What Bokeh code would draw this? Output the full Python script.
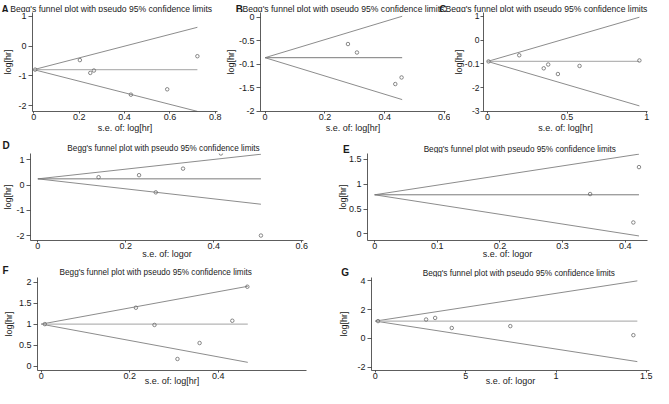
from bokeh.plotting import figure
from bokeh.models import Range1d, FixedTicker
from bokeh.layouts import column, row
from bokeh.core.properties import value
from bokeh.embed import file_html
from bokeh.resources import INLINE

# ---------------- data ----------------
# Panel A
A_se = [0.006, 0.203, 0.249, 0.265, 0.428, 0.588, 0.721]
A_lhr = [-0.79, -0.47, -0.90, -0.82, -1.63, -1.45, -0.34]
A_fun_se = [0.0, 0.721]
A_pool = [-0.79, -0.79]
A_up = [-0.79, 0.63]
A_lo = [-0.79, -2.19]
A_xt = [0, 0.2, 0.4, 0.6, 0.8]
A_xtl = ["0", "0.2", "0.4", "0.6", "0.8"]
A_yt = [-2, -1, 0, 1]
A_ytl = ["-2", "-1", "0", "1"]

# Panel B
B_se = [0.277, 0.307, 0.435, 0.456]
B_lhr = [-0.57, -0.75, -1.42, -1.28]
B_fun_se = [0.0, 0.458]
B_pool = [-0.86, -0.86]
B_up = [-0.86, 0.02]
B_lo = [-0.86, -1.75]
B_xt = [0, 0.2, 0.4, 0.6]
B_xtl = ["0", "0.2", "0.4", "0.6"]
B_yt = [0, -0.5, -1, -1.5, -2]
B_ytl = ["0", "-0.5", "-0.1", "-1.5", "-2"]

# Panel C
C_se = [0.006, 0.199, 0.353, 0.381, 0.442, 0.578, 0.954]
C_lhr = [-0.90, -0.64, -1.19, -1.03, -1.43, -1.09, -0.86]
C_fun_se = [0.0, 0.954]
C_pool = [-0.90, -0.90]
C_up = [-0.90, 0.96]
C_lo = [-0.90, -2.77]
C_xt = [0, 0.5, 1]
C_xtl = ["0", "0.5", "1"]
C_yt = [1, 0, -1, -2, -3]
C_ytl = ["1", "0", "-0.1", "-2", "-3"]

# Panel D
D_se = [0.138, 0.230, 0.268, 0.330, 0.416, 0.507]
D_lhr = [0.31, 0.39, -0.29, 0.65, 1.25, -2.00]
D_fun_se = [0.0, 0.507]
D_pool = [0.245, 0.245]
D_up = [0.245, 1.22]
D_lo = [0.245, -0.76]
D_xt = [0, 0.2, 0.4, 0.6]
D_xtl = ["0", "0.2", "0.4", "0.6"]
D_yt = [-2, -1, 0, 1]
D_ytl = ["-2", "-1", "0", "1"]

# Panel E
E_se = [0.344, 0.413, 0.422]
E_lhr = [0.80, 0.23, 1.34]
E_fun_se = [0.0, 0.422]
E_pool = [0.785, 0.785]
E_up = [0.785, 1.60]
E_lo = [0.785, -0.04]
E_xt = [0, 0.1, 0.2, 0.3, 0.4]
E_xtl = ["0", "0.1", "0.2", "0.3", "0.4"]
E_yt = [0, 0.5, 1, 1.5]
E_ytl = ["0", "0.5", "1", "1.5"]

# Panel F
F_se = [0.008, 0.214, 0.256, 0.308, 0.358, 0.432, 0.466]
F_lhr = [1.0, 1.39, 0.98, 0.17, 0.55, 1.08, 1.89]
F_fun_se = [0.0, 0.467]
F_pool = [1.0, 1.0]
F_up = [1.0, 1.90]
F_lo = [1.0, 0.09]
F_xt = [0, 0.2, 0.4, 0.6]
F_xtl = ["0", "0.2", "0.4", "0.6"]
F_yt = [0, 0.5, 1, 1.5, 2]
F_ytl = ["0", "0.5", "1", "1.5", "2"]

# Panel G
G_se = [0.015, 0.281, 0.331, 0.423, 0.747, 1.428]
G_lhr = [1.20, 1.31, 1.42, 0.72, 0.85, 0.22]
G_fun_se = [0.0, 1.45]
G_pool = [1.20, 1.20]
G_up = [1.20, 4.0]
G_lo = [1.20, -1.62]
G_xt = [0, 0.5, 1, 1.5]
G_xtl = ["0", "5", "1", "1.5"]
G_yt = [-2, 0, 2, 4]
G_ytl = ["-2", "0", "2", "4"]

TITLE = "Begg's funnel plot with pseudo 95% confidence limits"
XLAB_HR = "s.e. of: log[hr]"
XLAB_OR = "s.e. of: logor"
YLAB = "log[hr]"

# ---------------- layout helpers ----------------
SX = 653 / 669
SY = 388 / 404
FONT = "Liberation Sans"
TXT = "#1a1a1a"
CAP = 0.70  # cap height as share of font size


def X(v):
    return round(SX * v)


def Y(v):
    return round(SY * v)


def lin(pa, va, pb, vb, p):
    return va + (p - pa) * (vb - va) / (pb - pa)


def strip(y0, y1, items):
    """Full-width band without axes, carrying panel letters and titles.
    items: (text, ref_x, ref_y_centre, font_px, bold, align)"""
    W, H = 653, Y(y1) - Y(y0)
    s = figure(width=W, height=H, x_range=Range1d(0, W), y_range=Range1d(H, 0),
               x_axis_type=None, y_axis_type=None,
               output_backend="svg", toolbar_location=None,
               min_border_left=0, min_border_right=0,
               min_border_top=0, min_border_bottom=0)
    s.outline_line_color = None
    s.grid.visible = False
    for (txt, rx, ry, size, bold, align) in items:
        base = SY * ry - Y(y0) + CAP * size / 2
        s.text(x=[SX * rx], y=[base], text=[txt], text_font=value(FONT),
               text_font_size=f"{size}px",
               text_font_style="bold" if bold else "normal",
               text_align=align, text_baseline="alphabetic", text_color=TXT)
    return s


def panel(canvas, frame, xmap, ymap, data, ticks, labels, pool_color, pool_width,
          ytick=(4, 2), ylab_standoff=0, xlab_standoff=0, ytick_size="9px"):
    se, lhr, fse, pool, up, lo = data
    xt, xtl, yt, ytl = ticks
    xlab, ylab = labels
    cx0, cy0, cx1, cy1 = X(canvas[0]), Y(canvas[1]), X(canvas[2]), Y(canvas[3])
    fx0, fy0, fx1, fy1 = X(frame[0]), Y(frame[1]), X(frame[2]), Y(frame[3])
    xr = Range1d(lin(xmap[0], xmap[1], xmap[2], xmap[3], fx0 / SX),
                 lin(xmap[0], xmap[1], xmap[2], xmap[3], fx1 / SX))
    yr = Range1d(lin(ymap[0], ymap[1], ymap[2], ymap[3], fy1 / SY),
                 lin(ymap[0], ymap[1], ymap[2], ymap[3], fy0 / SY))
    p = figure(width=cx1 - cx0, height=cy1 - cy0, x_range=xr, y_range=yr,
               output_backend="svg", toolbar_location=None,
               min_border_left=fx0 - cx0, min_border_right=cx1 - fx1,
               min_border_top=fy0 - cy0, min_border_bottom=cy1 - fy1)
    p.outline_line_color = None
    p.xgrid.visible = False
    p.ygrid.visible = False
    for ax, t, tl, lab in ((p.xaxis[0], xt, xtl, xlab), (p.yaxis[0], yt, ytl, ylab)):
        ax.ticker = FixedTicker(ticks=t)
        ax.major_label_overrides = {v: s for v, s in zip(t, tl)}
        ax.minor_tick_line_color = None
        ax.axis_line_color = "#333333"
        ax.axis_line_width = 0.8
        ax.major_tick_line_color = "#333333"
        ax.major_tick_line_width = 0.8
        ax.major_tick_in = 0
        ax.major_label_text_font = FONT
        ax.major_label_text_font_size = "9px"
        ax.major_label_text_color = TXT
        ax.axis_label = lab
        ax.axis_label_text_font = FONT
        ax.axis_label_text_font_size = "9px"
        ax.axis_label_text_font_style = "normal"
        ax.axis_label_text_color = TXT
    p.yaxis.major_label_text_font_size = ytick_size
    p.xaxis.major_tick_out = 2
    p.xaxis.major_label_standoff = 0
    p.xaxis.axis_label_standoff = xlab_standoff
    p.yaxis.major_tick_out = ytick[0]
    p.yaxis.major_label_standoff = ytick[1]
    p.yaxis.axis_label_standoff = ylab_standoff

    p.line(fse, up, line_color="#6f6f6f", line_width=0.8)
    p.line(fse, lo, line_color="#6f6f6f", line_width=0.8)
    p.line(fse, pool, line_color=pool_color, line_width=pool_width)
    p.scatter(se, lhr, marker="circle", size=3.5, fill_color=None,
              line_color="#6a6a6a", line_width=0.8)
    return p


LIGHT, LW_L = "#b5b5b5", 1.3
DARK, LW_D = "#7a7a7a", 1.0

# ---- row 1 (plot content nudged down to leave room for the titles) ----
s1 = strip(0, 12, [("A", 1, 5.6, 10, True, "left"),
                   ("B", 241, 5.6, 10, True, "left"),
                   ("C", 449.5, 5.6, 10, True, "left"),
                   (TITLE, 10, 5.2, 8.6, False, "left"),
                   (TITLE, 248, 5.2, 8.6, False, "left"),
                   (TITLE, 456, 5.2, 8.6, False, "left")])

R1 = (12.5, 118)
d1 = 2.5
pA = panel((0, 12.5, 227, 141), (27, R1[0], 222, R1[1]), (28, 0, 220, 0.8),
           (14 + d1, 1, 109 + d1, -2),
           (A_se, A_lhr, A_fun_se, A_pool, A_up, A_lo), (A_xt, A_xtl, A_yt, A_ytl),
           (XLAB_HR, YLAB), LIGHT, LW_L, ylab_standoff=2, xlab_standoff=0)
pB = panel((227, 12.5, 461, 141), (260, R1[0], 456, R1[1]), (265, 0, 391.7, 0.4),
           (15 + d1, 0, 115 + d1, -2),
           (B_se, B_lhr, B_fun_se, B_pool, B_up, B_lo), (B_xt, B_xtl, B_yt, B_ytl),
           (XLAB_HR, YLAB), DARK, LW_D, ylab_standoff=0, xlab_standoff=0)
pC = panel((461, 12.5, 669, 141), (489, R1[0], 663, R1[1]), (493, 0, 662, 1),
           (14 + d1, 1, 115 + d1, -3),
           (C_se, C_lhr, C_fun_se, C_pool, C_up, C_lo), (C_xt, C_xtl, C_yt, C_ytl),
           (XLAB_HR, YLAB), LIGHT, LW_L, ytick=(3, 1), ylab_standoff=-2,
           xlab_standoff=0, ytick_size="8.5px")

# ---- row 2 ----
s2 = strip(141, 159.4, [("D", 2, 147.5, 10, True, "left"),
                        ("E", 351, 151.5, 10, True, "left"),
                        (TITLE, 167, 151.5, 8.2, False, "center"),
                        (TITLE, 532, 152.0, 8.2, False, "center")])
R2 = (159.4, 252.5)
pD = panel((0, 159.4, 335, 272), (25, R2[0], 310, R2[1]), (32.3, 0, 308.7, 0.6), (166, 1, 246.7, -2),
           (D_se, D_lhr, D_fun_se, D_pool, D_up, D_lo), (D_xt, D_xtl, D_yt, D_ytl),
           (XLAB_OR, YLAB), DARK, LW_D, ylab_standoff=0, xlab_standoff=-3)
pE = panel((335, 159.4, 669, 272), (376, R2[0], 663, R2[1]), (383.3, 0, 640, 0.4), (165.3, 1.5, 245, 0),
           (E_se, E_lhr, E_fun_se, E_pool, E_up, E_lo), (E_xt, E_xtl, E_yt, E_ytl),
           (XLAB_OR, YLAB), DARK, LW_D, ylab_standoff=-2, xlab_standoff=-3)

# ---- row 3 ----
s3 = strip(272, 288.5, [("F", 2, 277.5, 10, True, "left"),
                        ("G", 349, 280.0, 10, True, "left"),
                        (TITLE, 159, 280, 8.2, False, "center"),
                        (TITLE, 531, 280.8, 8.2, False, "center")])
R3 = (288.5, 387)
d3 = 2.0
pF = panel((0, 288.5, 335, 404), (32, R3[0], 314, R3[1]), (35.7, 0, 313.6, 0.6), (293.3, 2, 382.7, 0),
           (F_se, F_lhr, F_fun_se, F_pool, F_up, F_lo), (F_xt, F_xtl, F_yt, F_ytl),
           (XLAB_HR, YLAB), LIGHT, LW_L, ylab_standoff=2, xlab_standoff=-6)
pG = panel((335, 288.5, 669, 404), (380, R3[0], 665, R3[1]), (384, 0, 661.7, 1.5),
           (290 + d3, 4, 381.7 + d3, -2),
           (G_se, G_lhr, G_fun_se, G_pool, G_up, G_lo), (G_xt, G_xtl, G_yt, G_ytl),
           (XLAB_OR, YLAB), LIGHT, LW_L, ylab_standoff=5, xlab_standoff=-6)

layout = column(s1, row(pA, pB, pC), s2, row(pD, pE), s3, row(pF, pG))

open("out.html", "w").write(file_html(layout, INLINE))
